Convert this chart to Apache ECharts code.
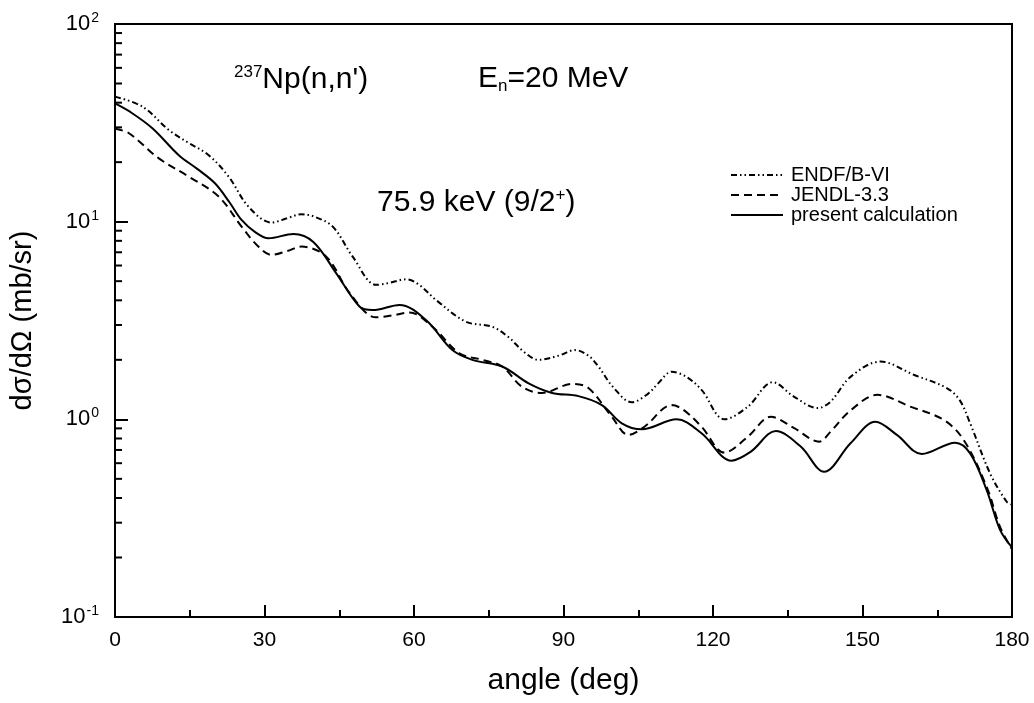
<!DOCTYPE html>
<html>
<head>
<meta charset="utf-8">
<script src="https://cdn.jsdelivr.net/npm/echarts@6/dist/echarts.min.js"></script>
<style>html,body{margin:0;padding:0;background:#fff}#c{width:1034px;height:703px}</style>
</head>
<body>
<div id="c"></div>
<script>
// ---- data (angle in deg, dσ/dΩ in mb/sr) ----
const endfAngle = [0,5.5,10.8,14.8,18.8,22.8,26.8,31.4,34.5,37.4,40,43.7,47.7,52.4,55,58.4,61,64.4,70.4,75.7,79,82,85,89,92.3,95,97,100,103.7,107,109,111.7,114.5,117.7,122.3,127,132,136.3,141,143.6,147.6,153.6,160.3,166.9,169.5,171.6,175.6,178.9,180];
const endfValue = [42.9,38.2,29.1,25,21.7,16.9,11.9,9.9,10.4,10.9,10.6,9.44,6.65,4.79,4.9,5.11,4.8,4.02,3.12,2.94,2.6,2.2,2.0,2.1,2.24,2.1,1.85,1.45,1.22,1.35,1.52,1.74,1.65,1.41,1.0,1.16,1.54,1.30,1.14,1.23,1.64,1.96,1.68,1.44,1.25,0.955,0.533,0.384,0.37];
const jendlAngle = [0,2.8,8.8,14.8,20.8,25.4,28.5,31.4,34.5,37.4,42.4,47.1,52.4,55.5,59.1,63.7,69.1,73.7,77.7,81.7,85.7,91.7,95,99.7,103,106.3,111.7,114,117.7,122.3,127,131.6,136.3,141.3,143.6,147.6,153,159.6,166.3,170.3,174.9,177.6,180];
const jendlValue = [29.5,28.0,20.9,16.9,13.4,9.44,7.6,6.79,7.1,7.48,6.65,4.35,3.28,3.35,3.47,2.94,2.16,2.0,1.85,1.46,1.36,1.51,1.44,1.03,0.834,0.92,1.18,1.12,0.918,0.679,0.817,1.03,0.902,0.771,0.867,1.11,1.33,1.16,0.993,0.787,0.457,0.286,0.22];
const presAngle = [0,3,7.5,12.8,16.5,20.1,23,25.4,28,30.8,35.8,39.8,44.4,49.1,51.7,57.1,62.4,67.7,71.7,77.7,83,87.7,93,97.7,101.7,105.7,112.7,117.7,123.7,127.6,132.6,137.6,142.3,147.6,152.6,156.9,161.9,168.6,171.6,174.9,177.6,180];
const presValue = [39.7,36,29.7,21.7,18.5,15.6,12.5,10.2,8.9,8.24,8.67,7.9,5.48,3.71,3.57,3.79,3.18,2.24,2.0,1.85,1.52,1.36,1.31,1.18,0.955,0.89,1.0,0.85,0.618,0.687,0.873,0.728,0.543,0.757,0.973,0.834,0.668,0.762,0.673,0.44,0.276,0.225];
const seriesNames = ['ENDF/B-VI','JENDL-3.3','present calculation'];
const xTicks = [0,30,60,90,120,150,180];
const yDecades = [0.1,1,10,100];

const FONT = '"Liberation Sans", Arial, Helvetica, sans-serif';
const pair = (a,b) => a.map((x,i)=>[x,b[i]]);

const minorY = [];
yDecades.slice(0,3).forEach(d => { for (let k=2;k<=9;k++) minorY.push([0, d*k]); });

const chart = echarts.init(document.getElementById('c'), null, {renderer:'canvas'});
const supFmt = v => {
  const e = Math.round(Math.log10(v));
  return '{b|10}{s|' + e + '}';
};
const bigRich = {
  b:{fontFamily:FONT,fontSize:30,fill:'#000'},
  s:{fontFamily:FONT,fontSize:17,fill:'#000',verticalAlign:'top',padding:[0,0,14,0]},
  d:{fontFamily:FONT,fontSize:17,fill:'#000',verticalAlign:'bottom',padding:[14,0,0,0]}
};
chart.setOption({
  animation:false,
  backgroundColor:'#fff',
  grid:{left:111,right:22,top:24,bottom:86,show:true,borderColor:'#000',borderWidth:2,backgroundColor:'transparent'},
  legend:{
    orient:'vertical', left:725, top:160, itemWidth:52, itemHeight:10, itemGap:0,
    data:seriesNames,
    itemStyle:{opacity:0},
    textStyle:{fontFamily:FONT,fontSize:20,color:'#000',padding:[0,0,0,3]}
  },
  xAxis:{
    type:'value', min:0, max:180, interval:30,
    axisLine:{lineStyle:{color:'#000',width:2}},
    axisTick:{inside:true,length:12,lineStyle:{color:'#000',width:2}},
    minorTick:{show:true,splitNumber:2,length:7,lineStyle:{color:'#000',width:2}},
    splitLine:{show:false},
    axisLabel:{fontFamily:FONT,fontSize:21,color:'#000',margin:13},
    name:'angle (deg)', nameLocation:'middle', nameGap:49,
    nameTextStyle:{fontFamily:FONT,fontSize:30,color:'#000'}
  },
  yAxis:{
    type:'log', logBase:10, min:0.1, max:100,
    axisLine:{lineStyle:{color:'#000',width:2}},
    axisTick:{inside:true,length:13,lineStyle:{color:'#000',width:2}},
    splitLine:{show:false},
    axisLabel:{formatter:supFmt,margin:16,
      rich:{b:{fontFamily:FONT,fontSize:22,color:'#000'},
            s:{fontFamily:FONT,fontSize:14,color:'#000',verticalAlign:'top',padding:[0,0,12,1]}}},
    name:'dσ/dΩ (mb/sr)', nameLocation:'middle', nameGap:78, nameRotate:90,
    nameTextStyle:{fontFamily:FONT,fontSize:29,color:'#000'}
  },
  series:[
    {name:seriesNames[0],type:'line',data:pair(endfAngle,endfValue),smooth:0.35,showSymbol:false,symbol:'none',
     itemStyle:{color:'#000'},lineStyle:{color:'#000',width:2,type:[6,3,1.5,3,1.5,3]}},
    {name:seriesNames[1],type:'line',data:pair(jendlAngle,jendlValue),smooth:0.35,showSymbol:false,symbol:'none',
     itemStyle:{color:'#000'},lineStyle:{color:'#000',width:2,type:[8,5]}},
    {name:seriesNames[2],type:'line',data:pair(presAngle,presValue),smooth:0.35,showSymbol:false,symbol:'none',
     itemStyle:{color:'#000'},lineStyle:{color:'#000',width:2,type:'solid'}},
    {type:'custom',silent:true,data:minorY,clip:false,legendHoverLink:false,
     renderItem:(params,api)=>{
       const p = api.coord([0, api.value(1)]);
       return {type:'line',shape:{x1:p[0],y1:p[1],x2:p[0]+7,y2:p[1]},style:{stroke:'#000',lineWidth:2}};
     }}
  ],
  graphic:[
    {type:'text',left:234,top:64,style:{text:'{s|237}{b|Np(n,n\')}',rich:bigRich}},
    {type:'text',left:478,top:64,style:{text:'{b|E}{d|n}{b|=20 MeV}',rich:bigRich}},
    {type:'text',left:377,top:187,style:{text:'{b|75.9 keV (9/2}{s|+}{b|)}',rich:bigRich}}
  ]
});
</script>
</body>
</html>
